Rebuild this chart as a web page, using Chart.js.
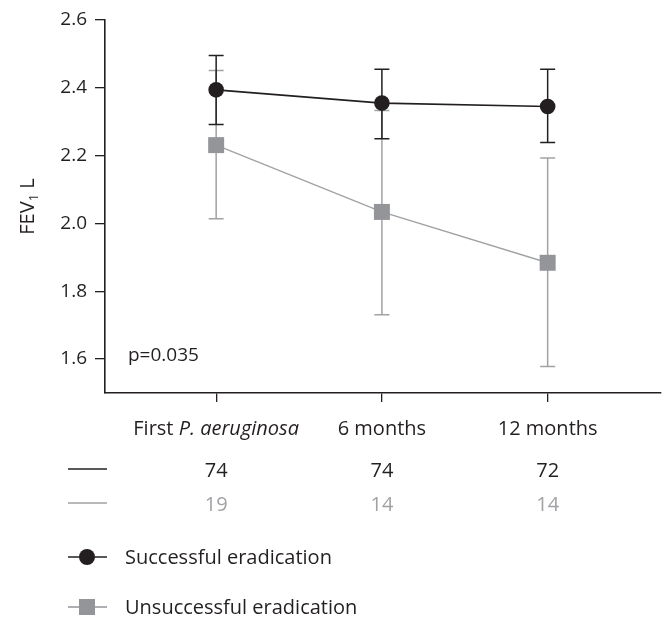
<!DOCTYPE html>
<html>
<head>
<meta charset="utf-8">
<script src="https://cdn.jsdelivr.net/npm/chart.js@4.4.1/dist/chart.umd.min.js"></script>
<style>
  html, body { margin: 0; padding: 0; background: #fff; }
  #wrap { width: 672px; height: 617px; }
</style>
</head>
<body>
<div id="wrap"><canvas id="chart" width="672" height="617"></canvas></div>
<script>
// FEV1 (L) after first P. aeruginosa isolation, by eradication outcome
const categories = ['First P. aeruginosa', '6 months', '12 months'];
const yTicks = [1.6, 1.8, 2.0, 2.2, 2.4, 2.6];

const successMean = [2.394, 2.355, 2.345];
const successLow  = [2.292, 2.250, 2.239];
const successHigh = [2.495, 2.455, 2.455];

const failMean = [2.231, 2.034, 1.884];
const failLow  = [2.014, 1.731, 1.578];
const failHigh = [2.451, 2.333, 2.193];

const successN = [74, 74, 72];
const failN    = [19, 14, 14];

const seriesNames = ['Successful eradication', 'Unsuccessful eradication'];
const pValueText = 'p=0.035';

const DARK = '#231f20';
const GREY = '#939598';
const GREY_LINE = '#a0a2a5';
const FONT = '"Open Sans", sans-serif';

const xs = categories.map((_, i) => i);
const pts = (ys) => ys.map((y, i) => ({ x: xs[i], y: y }));

// error bars, drawn under the markers (grey first so black sits on top)
const errorBars = {
    id: 'errorBars',
    beforeDatasetsDraw(chart) {
        const { ctx, scales: { x, y } } = chart;
        const sets = [
            { lo: failLow, hi: failHigh, color: GREY_LINE },
            { lo: successLow, hi: successHigh, color: DARK }
        ];
        ctx.save();
        ctx.lineWidth = 1.5;
        sets.forEach(s => {
            ctx.strokeStyle = s.color;
            xs.forEach(i => {
                const px = x.getPixelForValue(i);
                const y1 = y.getPixelForValue(s.lo[i]);
                const y2 = y.getPixelForValue(s.hi[i]);
                ctx.beginPath();
                ctx.moveTo(px, y1); ctx.lineTo(px, y2);
                ctx.moveTo(px - 7.5, y1); ctx.lineTo(px + 7.5, y1);
                ctx.moveTo(px - 7.5, y2); ctx.lineTo(px + 7.5, y2);
                ctx.stroke();
            });
        });
        ctx.restore();
    }
};

// category labels, n-at-risk rows, legend, p value, y title
const extras = {
    id: 'extras',
    afterDraw(chart) {
        const { ctx, scales: { x, y } } = chart;
        ctx.save();
        ctx.textBaseline = 'alphabetic';

        // category labels (species name in italics)
        ctx.fillStyle = DARK;
        categories.forEach((lab, i) => {
            const cx = x.getPixelForValue(i);
            const m = lab.match(/^(.*?)(P\. aeruginosa)$/);
            const parts = m ? [[m[1], false], [m[2], true]] : [[lab, false]];
            let w = 0;
            parts.forEach(p => {
                ctx.font = (p[1] ? 'italic ' : '') + '20px ' + FONT;
                w += ctx.measureText(p[0]).width;
            });
            let px = cx - w / 2;
            ctx.textAlign = 'left';
            parts.forEach(p => {
                ctx.font = (p[1] ? 'italic ' : '') + '20px ' + FONT;
                ctx.fillText(p[0], px, 435);
                px += ctx.measureText(p[0]).width;
            });
        });

        // numbers per group
        const rows = [
            { n: successN, color: DARK, y: 469, base: 476.5 },
            { n: failN, color: GREY_LINE, y: 503, base: 511 }
        ];
        ctx.font = '20px ' + FONT;
        ctx.textAlign = 'center';
        rows.forEach(r => {
            ctx.strokeStyle = r.color;
            ctx.lineWidth = 1.6;
            ctx.beginPath();
            ctx.moveTo(68, r.y); ctx.lineTo(107, r.y);
            ctx.stroke();
            ctx.fillStyle = r.color;
            r.n.forEach((v, i) => ctx.fillText(String(v), x.getPixelForValue(i), r.base));
        });

        // legend
        const leg = [
            { name: seriesNames[0], color: DARK, y: 557, shape: 'circle' },
            { name: seriesNames[1], color: GREY, y: 607, shape: 'square' }
        ];
        leg.forEach(l => {
            ctx.strokeStyle = l.color;
            ctx.lineWidth = 1.6;
            ctx.beginPath();
            ctx.moveTo(68, l.y); ctx.lineTo(107, l.y);
            ctx.stroke();
            ctx.fillStyle = l.color;
            if (l.shape === 'circle') {
                ctx.beginPath();
                ctx.arc(87, l.y, 8, 0, Math.PI * 2);
                ctx.fill();
            } else {
                ctx.fillRect(79, l.y - 8, 16, 16);
            }
            ctx.fillStyle = DARK;
            ctx.textAlign = 'left';
            ctx.font = '20px ' + FONT;
            ctx.fillText(l.name, 125, l.y + 6.5);
        });

        // p value
        ctx.font = '19px ' + FONT;
        ctx.fillStyle = DARK;
        ctx.textAlign = 'left';
        ctx.fillText(pValueText, 128, 361);

        // y axis title, FEV1 with subscript
        ctx.translate(34, (y.top + y.bottom) / 2);
        ctx.rotate(-Math.PI / 2);
        ctx.font = '20px ' + FONT;
        const a = 'FEV', b = '1', c = ' L';
        const wa = ctx.measureText(a).width;
        ctx.font = '13px ' + FONT;
        const wb = ctx.measureText(b).width;
        ctx.font = '20px ' + FONT;
        const wc = ctx.measureText(c).width;
        let tx = -(wa + wb + wc) / 2;
        ctx.fillText(a, tx, 0); tx += wa;
        ctx.font = '13px ' + FONT;
        ctx.fillText(b, tx, 4); tx += wb;
        ctx.font = '20px ' + FONT;
        ctx.fillText(c, tx, 0);
        ctx.restore();
    }
};

new Chart(document.getElementById('chart'), {
    type: 'line',
    data: {
        datasets: [
            {
                label: seriesNames[0],
                data: pts(successMean),
                borderColor: DARK,
                backgroundColor: DARK,
                borderWidth: 1.6,
                pointStyle: 'circle',
                pointRadius: 7.8,
                pointBorderWidth: 0,
                clip: false
            },
            {
                label: seriesNames[1],
                data: pts(failMean),
                borderColor: GREY_LINE,
                backgroundColor: GREY,
                pointBackgroundColor: GREY,
                borderWidth: 1.4,
                pointStyle: 'rect',
                pointRadius: 11.3,
                pointBorderWidth: 0,
                clip: false
            }
        ]
    },
    options: {
        responsive: false,
        animation: false,
        events: [],
        layout: { padding: { top: 20, right: 2, left: 0, bottom: 0 } },
        plugins: {
            legend: { display: false },
            tooltip: { enabled: false }
        },
        scales: {
            x: {
                type: 'linear',
                min: -0.6706,
                max: 2.682,
                afterBuildTicks: (s) => { s.ticks = xs.map(v => ({ value: v })); },
                afterFit: (s) => { s.height = 224; },
                grid: { display: true, drawOnChartArea: false, drawTicks: true, tickLength: 9, color: DARK, lineWidth: 1.3 },
                border: { display: true, color: DARK, width: 1.6 },
                ticks: { display: false }
            },
            y: {
                type: 'linear',
                min: 1.5,
                max: 2.6,
                afterBuildTicks: (s) => { s.ticks = yTicks.map(v => ({ value: v })); },
                afterFit: (s) => { s.width = 105; },
                grid: { display: true, drawOnChartArea: false, drawTicks: true, tickLength: 10, color: DARK, lineWidth: 1.3 },
                border: { display: true, color: DARK, width: 1.6 },
                ticks: {
                    padding: 8,
                    color: DARK,
                    font: { family: FONT, size: 19 },
                    callback: (v) => v.toFixed(1)
                }
            }
        }
    },
    plugins: [errorBars, extras]
});
</script>
</body>
</html>
